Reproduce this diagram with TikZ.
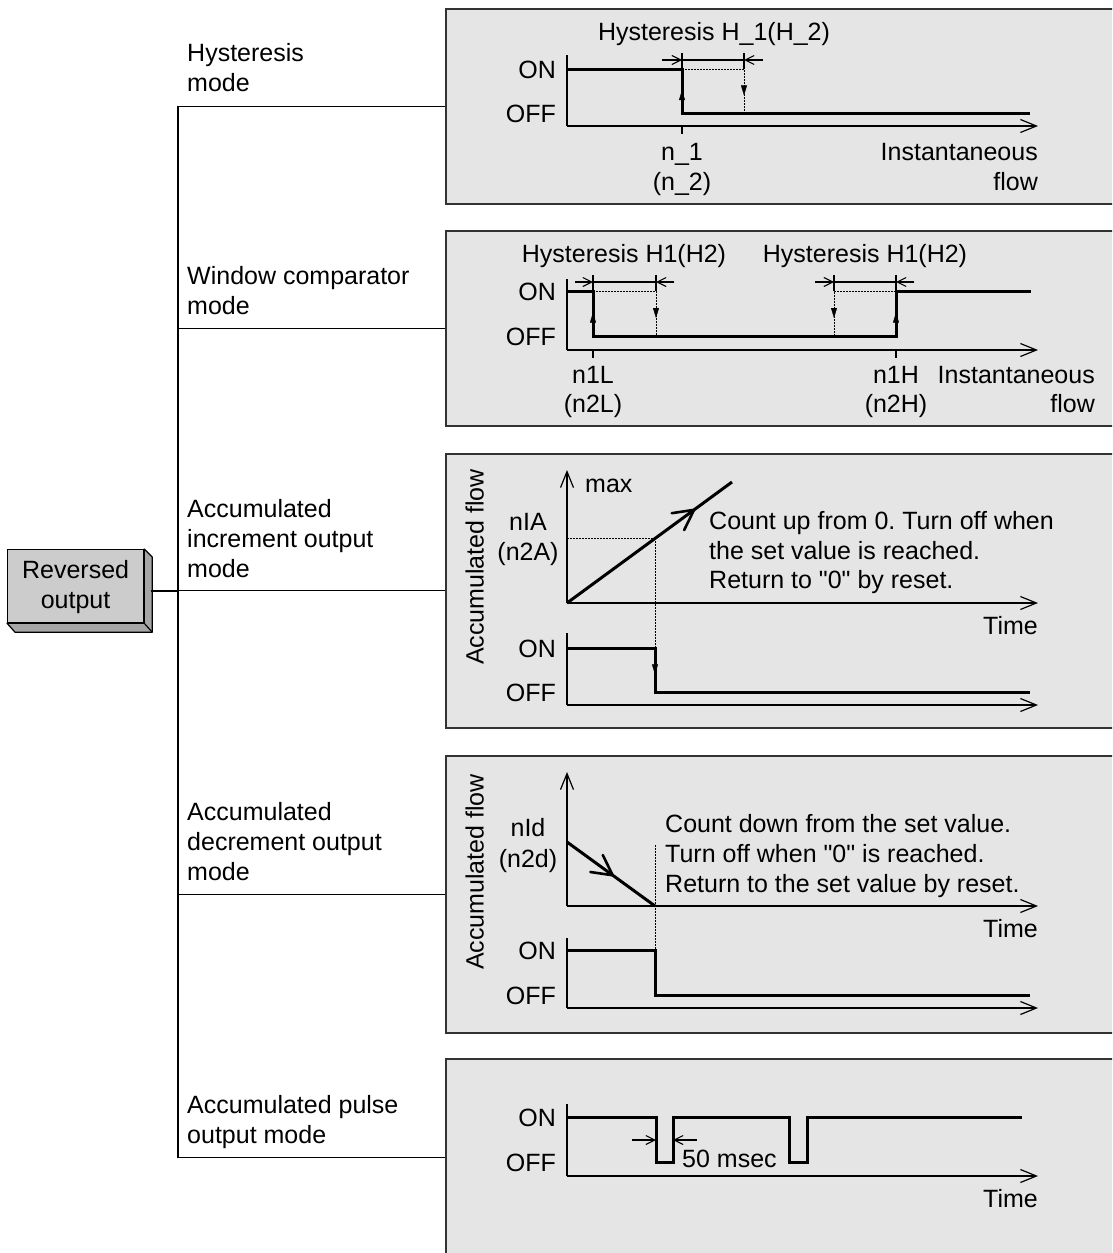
\documentclass[tikz,border=0pt]{standalone}
\usepackage{fontspec}
\setmainfont{Liberation Sans}[Ligatures=TeXOff]
\usetikzlibrary{arrows.meta,decorations.markings,calc}
\frenchspacing
\begin{document}
\begin{tikzpicture}[x=1pt,y=-1pt,font=\fontsize{25}{30}\selectfont,
  panel/.style={draw=black!80,line width=1.6pt,fill=black!10,minimum width=690pt,inner sep=0pt,anchor=north west},
  thk/.style={line width=3pt},
  thn/.style={line width=1.2pt},
  dotl/.style={line width=1pt,dash pattern=on 1.6pt off 1.4pt},
  axis/.style={line width=1.2pt,-{Straight Barb[length=16pt,width=13pt]}},
  dim/.style={line width=1.1pt,-{Straight Barb[length=9pt,width=9pt]}},
  midtri/.style={postaction={decorate},decoration={markings,mark=at position #1 with {\arrow{Triangle[length=10pt,width=6pt]}}}},
  midvee/.style={postaction={decorate},decoration={markings,mark=at position #1 with {\draw[line width=2.6pt,line cap=round,line join=miter] (-20pt,10.5pt) -- (0pt,0pt) -- (-20pt,-10.5pt);}}},
  tl/.style={inner sep=0pt,anchor=mid west,yshift=-6.5pt},
  tr/.style={inner sep=0pt,anchor=mid east,yshift=-6.5pt},
  tc/.style={inner sep=0pt,anchor=mid,yshift=-6.5pt},
  tv/.style={inner sep=0pt,anchor=mid,rotate=90},
]
\clip (0,0) rectangle (1112,1253);
\fill[white] (0,0) rectangle (1112,1253);

% panels
\node[panel,minimum height=195pt] (p1) at (445,8) {};
\node[panel,minimum height=195pt] (p2) at (445,230) {};
\node[panel,minimum height=274pt] (p3) at (445,453) {};
\node[panel,minimum height=277pt] (p4) at (445,755) {};
\node[panel,minimum height=198pt] (p5) at (445,1058) {};

% reversed output box
\node[draw,line width=1.2pt,fill=black!20,minimum width=136pt,minimum height=73pt,anchor=north west,align=center,inner sep=0pt,text depth=4pt] (rev) at (7,549) {Reversed\\output};
\draw[line width=1.2pt,fill=black!35,line join=round] (rev.north east) -- ++(8,8) -- ($(rev.south east)+(8,9)$) -- ($(rev.south west)+(8,9)$) -- (rev.south west) -- (rev.south east) -- cycle;
\draw[line width=1.2pt] (rev.south east) -- ++(8,9);
\coordinate (revR) at (151,591);

% tree
\coordinate (trk) at (178,0);
\draw[thn] (p1.west -| trk) -- (p5.west -| trk);
\draw[thn] (revR) -- (revR -| trk);
\foreach \p in {p1,p2,p3,p4,p5} \draw[thn] (\p.west -| trk) -- (\p.west);

% left labels
\node[tl] (l1a) at (187,52) {Hysteresis};
\node[tl] (l1b) at (187,82) {mode};
\node[tl] (l2a) at (187,275) {Window comparator};
\node[tl] (l2b) at (187,305) {mode};
\node[tl] (l3a) at (187,508) {Accumulated};
\node[tl] (l3b) at (187,538) {increment output};
\node[tl] (l3c) at (187,568) {mode};
\node[tl] (l4a) at (187,811) {Accumulated};
\node[tl] (l4b) at (187,841) {decrement output};
\node[tl] (l4c) at (187,871) {mode};
\node[tl] (l5a) at (187,1104) {Accumulated pulse};
\node[tl] (l5b) at (187,1134) {output mode};

% ===== panel 1
\draw[thn] (567,55) -- (567,126);
\draw[axis] (567,126) -- (1038,126);
\node[tr] (on1) at (556,69) {ON};
\node[tr] (off1) at (556,113) {OFF};
\draw[dotl] (682,69) -- (744,69) -- (744,113);
\path[midtri=0.6] (744,69) -- (744,113);
\draw[thk] (567,69) -- (682,69) -- (682,113) -- (1030,113);
\path[midtri=0.52] (682,113) -- (682,69);
\draw[thn] (682,53) -- (682,69) (744,53) -- (744,69);
\draw[thn] (682,60) -- (744,60);
\draw[dim] (662,60) -- (682,60);
\draw[dim] (763,60) -- (744,60);
\draw[thn] (682,126) -- (682,134);
\node[tc] (h1) at (714,31) {Hysteresis H\_1(H\_2)};
\node[tc] (n1) at (682,151) {n\_1};
\node[tc] (n2) at (682,181) {(n\_2)};
\node[tr] (if1) at (1038,151) {Instantaneous};
\node[tr] (fl1) at (1038,181) {flow};

% ===== panel 2
\draw[thn] (567,279) -- (567,350);
\draw[axis] (567,350) -- (1038,350);
\node[tr] (on2) at (556,291) {ON};
\node[tr] (off2) at (556,336) {OFF};
\draw[dotl] (593,291) -- (656,291) -- (656,336);
\draw[dotl] (834,336) -- (834,291) -- (896,291);
\path[midtri=0.6] (656,291) -- (656,336);
\path[midtri=0.6] (834,291) -- (834,336);
\draw[thk] (567,291) -- (593,291) -- (593,336) -- (896,336) -- (896,291) -- (1031,291);
\path[midtri=0.52] (593,336) -- (593,291);
\path[midtri=0.52] (896,336) -- (896,291);
\draw[thn] (593,275) -- (593,291) (656,275) -- (656,291) (834,275) -- (834,291) (896,275) -- (896,291);
\draw[thn] (593,282) -- (656,282) (834,282) -- (896,282);
\draw[dim] (575,282) -- (593,282);
\draw[dim] (674,282) -- (656,282);
\draw[dim] (815,282) -- (834,282);
\draw[dim] (914,282) -- (896,282);
\draw[thn] (593,350) -- (593,358) (896,350) -- (896,358);
\node[tc] (h2a) at (624,253) {Hysteresis H1(H2)};
\node[tc] (h2b) at (865,253) {Hysteresis H1(H2)};
\node[tc] (n1l) at (593,374) {n1L};
\node[tc] (n2l) at (593,403) {(n2L)};
\node[tc] (n1h) at (896,374) {n1H};
\node[tc] (n2h) at (896,403) {(n2H)};
\node[tr] (if2) at (1095,374) {Instantaneous};
\node[tr] (fl2) at (1095,403) {flow};

% ===== panel 3
\node[tv] (acc3) at (481,567) {Accumulated flow};
\draw[axis] (567,603) -- (567,470);
\draw[axis] (567,603) -- (1038,603);
\node[tl] (max3) at (585,483) {max};
\draw[dotl] (567,538) -- (655,538);
\draw[dotl] (655,538) -- (655,648);
\draw[thk] (567,603) -- (732,482);
\path[midvee=0.77] (567,603) -- (732,482);
\node[tc] (nia) at (528,521) {nIA};
\node[tc] (n2a) at (528,551) {(n2A)};
\node[tl] (c3a) at (709,520) {Count up from 0. Turn off when};
\node[tl] (c3b) at (709,550) {the set value is reached.};
\node[tl] (c3c) at (709,579) {Return to "0" by reset.};
\node[tr] (tm3) at (1038,625) {Time};
\draw[thn] (567,633) -- (567,705);
\draw[axis] (567,705) -- (1038,705);
\node[tr] (on3) at (556,648) {ON};
\node[tr] (off3) at (556,692) {OFF};
\draw[thk] (567,648) -- (655,648) -- (655,692) -- (1030,692);
\path[midtri=0.6] (655,648) -- (655,692);

% ===== panel 4
\node[tv] (acc4) at (481,872) {Accumulated flow};
\draw[axis] (567,906) -- (567,772);
\draw[axis] (567,906) -- (1038,906);
\draw[dotl] (655,845) -- (655,950);
\draw[thk] (567,842) -- (655,906);
\path[midvee=0.52] (567,842) -- (655,906);
\node[tc] (nid) at (528,827) {nId};
\node[tc] (n2d) at (528,858) {(n2d)};
\node[tl] (c4a) at (665,823) {Count down from the set value.};
\node[tl] (c4b) at (665,853) {Turn off when "0" is reached.};
\node[tl] (c4c) at (665,883) {Return to the set value by reset.};
\node[tr] (tm4) at (1038,928) {Time};
\draw[thn] (567,938) -- (567,1008);
\draw[axis] (567,1008) -- (1038,1008);
\node[tr] (on4) at (556,950) {ON};
\node[tr] (off4) at (556,995) {OFF};
\draw[thk] (567,950) -- (655,950) -- (655,995) -- (1030,995);

% ===== panel 5
\draw[thn] (567,1104) -- (567,1176);
\draw[axis] (567,1176) -- (1038,1176);
\node[tr] (on5) at (556,1117) {ON};
\node[tr] (off5) at (556,1162) {OFF};
\draw[thk] (567,1117) -- (656,1117) -- (656,1162) -- (673,1162) -- (673,1117) -- (789,1117) -- (789,1162) -- (807,1162) -- (807,1117) -- (1022,1117);
\draw[dim] (632,1140) -- (656,1140);
\draw[dim] (697,1140) -- (673,1140);
\node[tl] (ms5) at (682,1158) {50 msec};
\node[tr] (tm5) at (1038,1198) {Time};
\end{tikzpicture}
\end{document}
